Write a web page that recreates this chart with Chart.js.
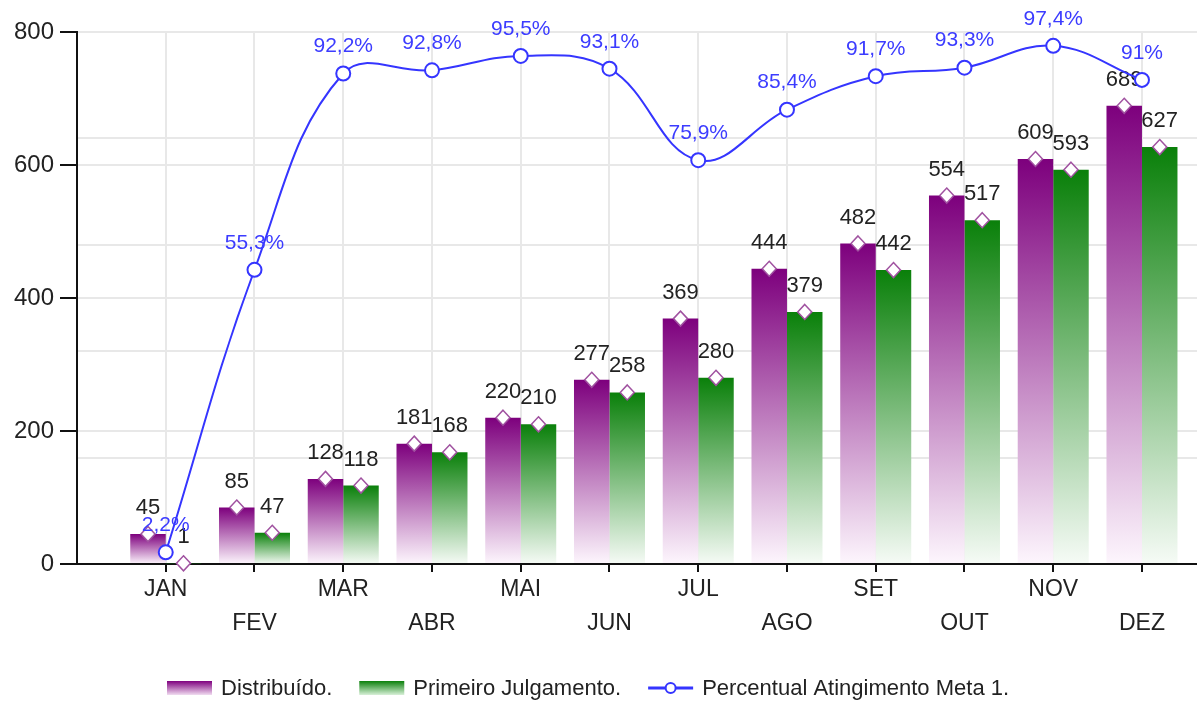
<!DOCTYPE html>
<html>
<head>
<meta charset="utf-8">
<script src="https://cdn.jsdelivr.net/npm/chart.js@4/dist/chart.umd.min.js"></script>
<style>
  body { margin: 0; background: #fff; }
</style>
</head>
<body>
<canvas id="grafico" width="1197" height="702"></canvas>
<script>
const meses = ['JAN', 'FEV', 'MAR', 'ABR', 'MAI', 'JUN', 'JUL', 'AGO', 'SET', 'OUT', 'NOV', 'DEZ'];
const distribuido = [45, 85, 128, 181, 220, 277, 369, 444, 482, 554, 609, 689];
const primeiroJulgamento = [1, 47, 118, 168, 210, 258, 280, 379, 442, 517, 593, 627];
const percentualMeta = [2.2, 55.3, 92.2, 92.8, 95.5, 93.1, 75.9, 85.4, 91.7, 93.3, 97.4, 91];
const ticksY = [0, 200, 400, 600, 800];

const fonte = "'Liberation Sans', Arial, sans-serif";
const corTexto = '#222';
const corGrade = '#e8e8e8';
const azul = '#3535ff';

// gradiente de cada barra, do topo ate a base
function gradienteBarra(corTopo, corBase) {
    return function (ctx) {
        const chart = ctx.chart;
        if (ctx.type !== 'data' || !chart.chartArea) return corTopo;
        const y = chart.scales.y;
        const topo = y.getPixelForValue(ctx.raw.y);
        const base = y.getPixelForValue(0);
        if (base - topo < 1) return corTopo;
        const g = chart.ctx.createLinearGradient(0, topo, 0, base);
        g.addColorStop(0, corTopo);
        g.addColorStop(1, corBase);
        return g;
    };
}

function formataPct(v) {
    return String(v).replace('.', ',') + '%';
}

function losango(c, x, y) {
    c.beginPath();
    c.moveTo(x, y - 7.5);
    c.lineTo(x + 7, y);
    c.lineTo(x, y + 7.5);
    c.lineTo(x - 7, y);
    c.closePath();
    c.fillStyle = '#fff';
    c.fill();
    c.lineWidth = 1.5;
    c.strokeStyle = '#a052a0';
    c.stroke();
}

const rotulos = {
    id: 'rotulos',
    afterDatasetDraw(chart, args) {
        const ds = chart.data.datasets[args.index];
        if (ds.type !== 'bar') return;
        const c = chart.ctx;
        c.save();
        args.meta.data.forEach((bar, i) => {
            losango(c, bar.x, bar.y);
            c.font = '22px ' + fonte;
            c.fillStyle = corTexto;
            c.textAlign = 'center';
            c.textBaseline = 'middle';
            c.fillText(ds.data[i].y, bar.x, bar.y - 26);
        });
        c.restore();
    },
    afterDatasetsDraw(chart) {
        const c = chart.ctx;
        const meta = chart.getDatasetMeta(2);
        c.save();
        c.font = '21px ' + fonte;
        c.fillStyle = '#3c3cff';
        c.textAlign = 'center';
        c.textBaseline = 'middle';
        meta.data.forEach((p, i) => {
            c.fillText(formataPct(percentualMeta[i]), p.x, p.y - 27);
        });
        c.restore();
    },
    afterDraw(chart) {
        // legenda desenhada a mao
        const c = chart.ctx;
        const yMeio = 688;
        let x = 167;
        c.save();
        c.font = '22px ' + fonte;
        c.textBaseline = 'middle';
        c.textAlign = 'left';
        const itens = [
            { texto: 'Distribuído.', cor: '#7f007f', base: '#f0dcf0' },
            { texto: 'Primeiro Julgamento.', cor: '#0b800b', base: '#d8f0d8' },
            { texto: 'Percentual Atingimento Meta 1.', linha: true }
        ];
        itens.forEach(item => {
            if (item.linha) {
                c.strokeStyle = azul;
                c.lineWidth = 3;
                c.beginPath();
                c.moveTo(x, yMeio);
                c.lineTo(x + 45, yMeio);
                c.stroke();
                c.beginPath();
                c.arc(x + 22.5, yMeio, 5, 0, Math.PI * 2);
                c.fillStyle = '#fff';
                c.fill();
                c.lineWidth = 2;
                c.stroke();
            } else {
                const g = c.createLinearGradient(0, yMeio - 7, 0, yMeio + 7);
                g.addColorStop(0, item.cor);
                g.addColorStop(1, item.base);
                c.fillStyle = g;
                c.fillRect(x, yMeio - 7, 45, 14);
            }
            c.fillStyle = corTexto;
            c.fillText(item.texto, x + 54, yMeio + 1);
            x += 54 + c.measureText(item.texto).width + 27;
        });
        c.restore();
    }
};

const ctx = document.getElementById('grafico').getContext('2d');
new Chart(ctx, {
    data: {
        datasets: [
            {
                type: 'bar',
                label: 'Distribuído.',
                data: distribuido.map((v, i) => ({ x: i + 1, y: v })),
                backgroundColor: gradienteBarra('#7d007d', '#fdf6fd'),
                categoryPercentage: 0.8,
                barPercentage: 1,
                yAxisID: 'y'
            },
            {
                type: 'bar',
                label: 'Primeiro Julgamento.',
                data: primeiroJulgamento.map((v, i) => ({ x: i + 1, y: v })),
                backgroundColor: gradienteBarra('#0a800a', '#f6fbf6'),
                categoryPercentage: 0.8,
                barPercentage: 1,
                yAxisID: 'y'
            },
            {
                type: 'line',
                label: 'Percentual Atingimento Meta 1.',
                data: percentualMeta.map((v, i) => ({ x: i + 1, y: v })),
                borderColor: azul,
                borderWidth: 2,
                tension: 0.4,
                pointRadius: 7,
                pointBorderWidth: 2,
                pointBackgroundColor: '#fff',
                pointBorderColor: azul,
                yAxisID: 'y2',
                order: -1
            }
        ]
    },
    options: {
        responsive: false,
        animation: false,
        layout: { autoPadding: false, padding: { top: 32, bottom: 62, left: 0, right: 0 } },
        plugins: {
            legend: { display: false },
            tooltip: { enabled: false }
        },
        scales: {
            x: {
                type: 'linear',
                min: 0,
                max: 12.62,
                offset: false,
                afterBuildTicks: scale => {
                    scale.ticks = meses.map((m, i) => ({ value: i + 1 }));
                },
                afterFit: scale => {
                    scale.height = 76;
                    scale.paddingLeft = 0;
                    scale.paddingRight = 0;
                },
                ticks: {
                    autoSkip: false,
                    maxRotation: 0,
                    padding: 0,
                    color: corTexto,
                    font: { family: fonte, size: 23, lineHeight: 1.5 },
                    callback: v => {
                        const i = Math.round(v) - 1;
                        return i % 2 === 0 ? meses[i] : ['', meses[i]];
                    }
                },
                grid: { offset: false, color: corGrade, lineWidth: 2, tickColor: '#111', tickLength: 8, tickWidth: 2 },
                border: { color: '#111', width: 2 }
            },
            y: {
                position: 'left',
                min: 0,
                max: 800,
                afterBuildTicks: scale => {
                    scale.ticks = ticksY.map(v => ({ value: v }));
                },
                afterFit: scale => { scale.width = 77; },
                ticks: {
                    padding: 6,
                    color: corTexto,
                    font: { family: fonte, size: 24 }
                },
                grid: { color: corGrade, lineWidth: 2, tickColor: '#111', tickLength: 17, tickWidth: 2 },
                border: { color: '#111', width: 2 }
            },
            y2: {
                position: 'right',
                min: 0,
                max: 100,
                ticks: { display: false, stepSize: 20 },
                afterFit: scale => { scale.width = 0; },
                grid: { color: corGrade, lineWidth: 2, drawTicks: false },
                border: { display: false }
            }
        }
    },
    plugins: [rotulos]
});
</script>
</body>
</html>
